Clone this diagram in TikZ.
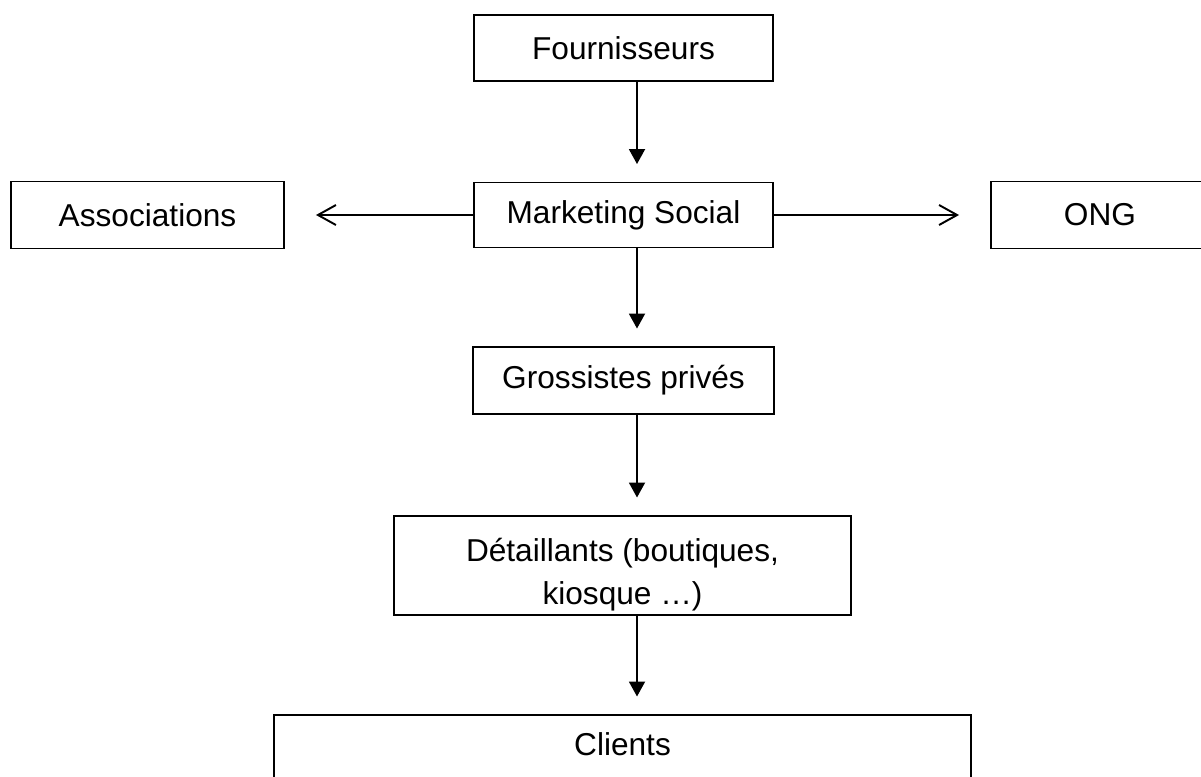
\documentclass[tikz,border=0pt]{standalone}
\usepackage{fontspec}
\setmainfont{Liberation Sans}
\usepackage{tikz}
\usetikzlibrary{positioning,calc,arrows.meta}

\begin{document}
\begin{tikzpicture}[line width=1.1pt, main/.style = {rectangle, draw, fill=white, inner sep=0pt, align=center, font=\fontsize{18pt}{24.5pt}\selectfont}, down/.style = {-{Triangle[length=3mm, width=3.2mm]}, shorten >=0.35cm}, side/.style = {-{Straight Barb[length=3.6mm, width=4mm]}, shorten >=0.62cm}]
\useasboundingbox (0,0) rectangle (24.02,-15.52);
\coordinate (s) at (12.74,0);

\filldraw[black] (12.47,-0.96) node[main, minimum width=5.98cm, minimum height=1.32cm] (f) {Fournisseurs};
\filldraw[black] (12.47,-4.30) node[main, minimum width=5.98cm, minimum height=1.30cm] (m) {Marketing Social};
\filldraw[black] (2.95,-4.30) node[main, minimum width=5.46cm, minimum height=1.34cm] (a) {Associations};
\filldraw[black] (22.00,-4.30) node[main, minimum width=4.36cm, minimum height=1.34cm] (o) {ONG};
\filldraw[black] (12.47,-7.61) node[main, minimum width=6.02cm, minimum height=1.34cm] (g) {Grossistes privés};
\filldraw[black] (12.45,-10.30) node[main, anchor=north, minimum width=9.14cm, text height=1.78cm, text depth=0.20cm] (d) {Détaillants (boutiques,\\ kiosque …)};
\filldraw[black] (12.45,-14.28) node[main, anchor=north, minimum width=13.94cm, text height=0.82cm, text depth=1.2cm] (c) {Clients};

\path
 (f.south -| s) edge[down] (m.north -| s)
 (m.south -| s) edge[down] (g.north -| s)
 (g.south -| s) edge[down] (d.north -| s)
 (d.south -| s) edge[down] (c.north -| s)
 (m.west) edge[side] (a.east)
 (m.east) edge[side] (o.west);
\end{tikzpicture}
\end{document}
